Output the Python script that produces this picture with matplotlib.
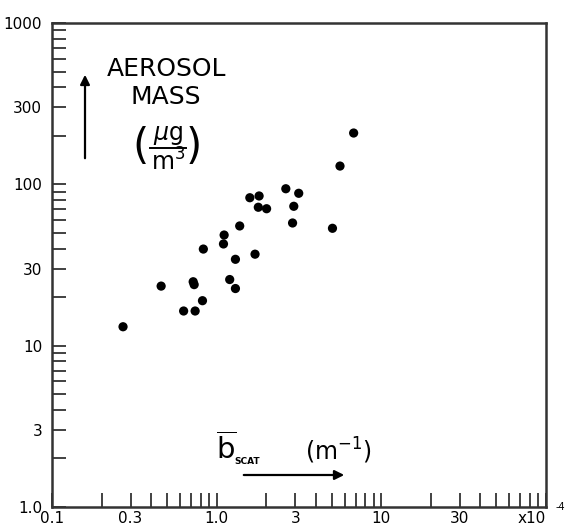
#!/usr/bin/env python3
"""
plot.py

Aerosol mass vs scattering coefficient (log-log scatter), redrawn from a scanned figure.
"""

import numpy as np
import matplotlib
matplotlib.use("Agg")
import matplotlib.pyplot as plt

OUTPUT_PNG = "out.png"

# ---------------------------
# Data
# ---------------------------
# b_scat in units of 1e-4 m^-1
b_scat = [0.27, 0.46, 0.63, 0.74, 0.82, 0.72, 0.73, 0.83, 1.11, 1.10,
          1.38, 1.30, 1.71, 1.20, 1.30, 1.59, 1.81, 1.79, 2.01, 2.63,
          3.15, 2.94, 2.89, 5.05, 5.61, 6.79]
# aerosol mass in ug/m^3
mass = [13.1, 23.4, 16.4, 16.4, 19.0, 24.9, 23.9, 39.7, 48.5, 42.7,
        55.2, 34.3, 36.9, 25.7, 22.6, 82.6, 84.7, 72.1, 70.6, 93.9,
        88.0, 73.1, 57.6, 53.4, 129.8, 208.0]

x_major = [0.1, 0.3, 1, 3, 10, 30, 100]
x_major_labels = ["0.1", "0.3", "1.0", "3", "10", "30", "x10"]
y_major = [1, 3, 10, 30, 100, 300, 1000]
y_major_labels = ["1.0", "3", "10", "30", "100", "300", "1000"]

# ---------------------------
# Figure
# ---------------------------
W, H = 566, 527
fig = plt.figure(figsize=(W / 100, H / 100), dpi=100)

def fx(px):
    return px / W

def fy(py):
    return 1 - py / H

left, right, top, bottom = 52, 546, 23, 507
ax = fig.add_axes([fx(left), fy(bottom), fx(right) - fx(left), fy(top) - fy(bottom)])

ax.scatter(b_scat, mass, s=44, color="black", edgecolors="none", zorder=3)

ax.set_xscale("log")
ax.set_yscale("log")
ax.set_xlim(0.1, 100)
ax.set_ylim(1, 1000)

x_minor = [d * m for d in (0.1, 1, 10) for m in (2, 4, 5, 6, 7, 8, 9)]
y_minor = [d * m for d in (1, 10, 100) for m in (2, 4, 5, 6, 7, 8, 9)]

ax.set_xticks(x_major)
ax.set_xticklabels(x_major_labels)
ax.set_xticks(x_minor, minor=True)
ax.set_yticks(y_major)
ax.set_yticklabels(y_major_labels)
ax.set_yticks(y_minor, minor=True)
ax.xaxis.set_minor_formatter(matplotlib.ticker.NullFormatter())
ax.yaxis.set_minor_formatter(matplotlib.ticker.NullFormatter())

for which in ("major", "minor"):
    ax.tick_params(axis="both", which=which, direction="in", length=10, width=1.3,
                   color="#333333", top=False, right=False)
ax.tick_params(axis="x", which="major", pad=3, labelsize=11)
ax.tick_params(axis="y", which="major", pad=7, labelsize=11)

# pull the "x10" label a little left so its exponent fits
ax.get_xticklabels()[-1].set_horizontalalignment("right")
ax.get_xticklabels()[-1].set_x(100)

for sp in ax.spines.values():
    sp.set_linewidth(1.8)
    sp.set_color("#333333")

# exponent of the x10 multiplier
fig.text(fx(565), fy(507), "-4", fontsize=7, ha="right", va="center")

# ---------------------------
# Axis annotations (inside the frame)
# ---------------------------
fig.text(fx(167), fy(69), "AEROSOL", fontsize=18, ha="center", va="center")
fig.text(fx(166), fy(97), "MASS", fontsize=18, ha="center", va="center")

# (ug / m^3) drawn as a hand-built fraction
fig.text(fx(141), fy(147), "(", fontsize=30, ha="center", va="center")
fig.text(fx(194), fy(147), ")", fontsize=30, ha="center", va="center")
fig.text(fx(168), fy(135), r"$\mu$g", fontsize=17, ha="center", va="center")
fig.text(fx(168), fy(162), r"m$^{3}$", fontsize=17, ha="center", va="center")
fig.add_artist(plt.Line2D([fx(150), fx(186)], [fy(148), fy(148)], color="black", lw=1.4))

ax.annotate("", xy=(fx(85), fy(72)), xytext=(fx(85), fy(161)),
            xycoords="figure fraction", textcoords="figure fraction",
            arrowprops=dict(arrowstyle="-|>", lw=1.6, color="black", mutation_scale=14))

fig.text(fx(226), fy(449), r"$\overline{\mathrm{b}}$", fontsize=21, ha="center", va="center")
fig.text(fx(247), fy(462), "SCAT", fontsize=6.5, ha="center", va="center",
         fontweight="bold")
fig.text(fx(338), fy(451), r"(m$^{-1}$)", fontsize=17, ha="center", va="center")

ax.annotate("", xy=(fx(347), fy(475)), xytext=(fx(241), fy(475)),
            xycoords="figure fraction", textcoords="figure fraction",
            arrowprops=dict(arrowstyle="-|>", lw=1.6, color="black", mutation_scale=14))

fig.savefig(OUTPUT_PNG, dpi=100)
plt.close(fig)
print(f"Plot saved: {OUTPUT_PNG}")
